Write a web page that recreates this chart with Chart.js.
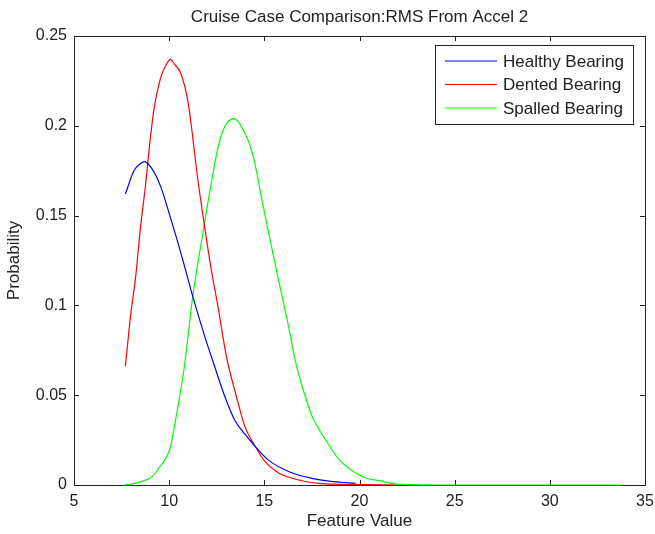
<!DOCTYPE html>
<html>
<head>
<meta charset="utf-8">
<script src="https://cdn.jsdelivr.net/npm/chart.js@4.4.1/dist/chart.umd.min.js"></script>
<style>
  html, body { margin: 0; padding: 0; background: #fff; }
  #wrap { width: 655px; height: 534px; }
</style>
</head>
<body>
<div id="wrap"><canvas id="pdfChart"></canvas></div>
<script>
// values
const healthyX = [7.7, 8.15, 8.5, 8.7, 9.1, 9.56, 10.09, 10.62, 11.24, 11.86, 12.39, 12.9, 13.45, 14.0, 14.5, 15.2, 16.3, 17.5, 18.5, 19.3, 19.8];
const healthyY = [0.162, 0.175, 0.179, 0.18, 0.176, 0.166, 0.148, 0.129, 0.105, 0.083, 0.066, 0.05, 0.036, 0.028, 0.0217, 0.014, 0.0074, 0.0037, 0.002, 0.0013, 0.001];

const dentedX = [7.7, 7.97, 8.24, 8.5, 8.77, 8.94, 9.2, 9.56, 9.85, 10.06, 10.3, 10.62, 10.98, 11.2, 11.47, 11.86, 12.21, 12.57, 13.0, 13.54, 13.98, 14.51, 15.04, 15.75, 16.81, 17.87, 19.0, 20.0, 21.9];
const dentedY = [0.066, 0.094, 0.116, 0.144, 0.168, 0.186, 0.209, 0.227, 0.234, 0.237, 0.234, 0.229, 0.214, 0.197, 0.173, 0.144, 0.12, 0.099, 0.072, 0.049, 0.0325, 0.0217, 0.013, 0.0067, 0.0028, 0.0009, 0.0004, 0.0002, 0];

const spalledX = [7.6, 8.0, 8.68, 9.03, 9.5, 10.05, 10.4, 10.8, 11.24, 11.5, 11.86, 12.21, 12.57, 12.92, 13.4, 13.98, 14.42, 14.87, 15.31, 15.75, 16.28, 16.63, 17.16, 17.52, 18.23, 18.94, 20.17, 21.06, 22.0, 25.0, 33.8];
const spalledY = [0, 0.0005, 0.0024, 0.004, 0.01, 0.0206, 0.04, 0.066, 0.105, 0.123, 0.146, 0.168, 0.188, 0.1995, 0.204, 0.196, 0.183, 0.159, 0.136, 0.114, 0.088, 0.069, 0.049, 0.038, 0.025, 0.014, 0.0046, 0.0024, 0.0005, 0, 0];

const seriesNames = ['Healthy Bearing', 'Dented Bearing', 'Spalled Bearing'];
const seriesColors = ['#0000ff', '#ff0000', '#00ff00'];

const xTicks = [5, 10, 15, 20, 25, 30, 35];
const yTicks = [0, 0.05, 0.1, 0.15, 0.2, 0.25];
const yTickLabels = ['0', '0.05', '0.1', '0.15', '0.2', '0.25'];

const chartTitle = 'Cruise Case Comparison:RMS From Accel 2';

const FONT = '"Liberation Sans", Arial, sans-serif';
const INK = '#222';

function toPoints(xs, ys) {
    return xs.map((x, i) => ({ x: x, y: ys[i] }));
}

// title centred over the plot box, not the whole canvas
const plotTitle = {
    id: 'plotTitle',
    afterDraw(chart) {
        const { ctx, chartArea: a } = chart;
        ctx.save();
        ctx.font = '17px ' + FONT;
        ctx.fillStyle = INK;
        ctx.textAlign = 'center';
        ctx.textBaseline = 'middle';
        ctx.fillText(chartTitle, (a.left + a.right) / 2, 17);
        ctx.restore();
    }
};

// box round the plot with inward ticks, like the original
const boxAxes = {
    id: 'boxAxes',
    beforeDatasetsDraw(chart) {
        const { ctx, chartArea: a, scales } = chart;
        const tick = 5;
        ctx.save();
        ctx.strokeStyle = INK;
        ctx.lineWidth = 1;
        ctx.beginPath();
        ctx.rect(a.left + 0.5, a.top + 0.5, a.right - a.left, a.bottom - a.top);
        xTicks.forEach(v => {
            const px = Math.round(scales.x.getPixelForValue(v)) + 0.5;
            ctx.moveTo(px, a.bottom); ctx.lineTo(px, a.bottom - tick);
            ctx.moveTo(px, a.top); ctx.lineTo(px, a.top + tick);
        });
        yTicks.forEach(v => {
            const py = Math.round(scales.y.getPixelForValue(v)) + 0.5;
            ctx.moveTo(a.left, py); ctx.lineTo(a.left + tick, py);
            ctx.moveTo(a.right, py); ctx.lineTo(a.right - tick, py);
        });
        ctx.stroke();
        ctx.restore();
    }
};

// legend box in the upper right corner
const boxLegend = {
    id: 'boxLegend',
    afterDraw(chart) {
        const { ctx, chartArea: a } = chart;
        const w = 198, h = 79;
        const x0 = a.right - 12 - w, y0 = a.top + 9;
        ctx.save();
        ctx.fillStyle = '#fff';
        ctx.fillRect(x0, y0, w, h);
        ctx.strokeStyle = INK;
        ctx.lineWidth = 1;
        ctx.strokeRect(x0 + 0.5, y0 + 0.5, w, h);
        ctx.font = '17px ' + FONT;
        ctx.textBaseline = 'middle';
        ctx.fillStyle = INK;
        chart.data.datasets.forEach((ds, i) => {
            const ry = y0 + 16 + i * 23.5;
            ctx.strokeStyle = ds.borderColor;
            ctx.lineWidth = 1.2;
            ctx.beginPath();
            ctx.moveTo(x0 + 10, ry); ctx.lineTo(x0 + 62, ry);
            ctx.stroke();
            ctx.fillText(ds.label, x0 + 68, ry + 1);
        });
        ctx.restore();
    }
};

const ctx = document.getElementById('pdfChart').getContext('2d');
const chart = new Chart(ctx, {
    type: 'line',
    data: {
        datasets: [
            { label: seriesNames[0], data: toPoints(healthyX, healthyY), borderColor: seriesColors[0] },
            { label: seriesNames[1], data: toPoints(dentedX, dentedY), borderColor: seriesColors[1] },
            { label: seriesNames[2], data: toPoints(spalledX, spalledY), borderColor: seriesColors[2] }
        ].map(d => Object.assign(d, {
            borderWidth: 1.2, pointRadius: 0, cubicInterpolationMode: 'monotone', fill: false, clip: 4
        }))
    },
    options: {
        responsive: true,
        maintainAspectRatio: false,
        animation: false,
        layout: { padding: { left: 0, right: 10, top: 36, bottom: 0 } },
        plugins: {
            legend: { display: false },
            tooltip: { enabled: false },
            title: { display: false }
        },
        scales: {
            x: {
                type: 'linear',
                min: 5,
                max: 35,
                afterBuildTicks: s => { s.ticks = xTicks.map(v => ({ value: v })); },
                afterFit: s => { s.height = 49; s.paddingLeft = 0; s.paddingRight = 0; },
                grid: { display: false, drawTicks: false },
                border: { display: false },
                ticks: { color: INK, padding: 7, font: { family: FONT, size: 16 } },
                title: {
                    display: true,
                    text: 'Feature Value',
                    color: INK,
                    font: { family: FONT, size: 17 },
                    padding: { top: 0, bottom: 2 }
                }
            },
            y: {
                type: 'linear',
                min: 0,
                max: 0.25,
                afterBuildTicks: s => { s.ticks = yTicks.map(v => ({ value: v })); },
                afterFit: s => { s.width = 74; s.paddingTop = 0; s.paddingBottom = 0; },
                grid: { display: false, drawTicks: false },
                border: { display: false },
                ticks: {
                    color: INK,
                    padding: 7,
                    font: { family: FONT, size: 16 },
                    callback: (v, i) => yTickLabels[i]
                },
                title: {
                    display: true,
                    text: 'Probability',
                    color: INK,
                    font: { family: FONT, size: 17 },
                    padding: { top: 4, bottom: 0 }
                }
            }
        }
    },
    plugins: [boxAxes, boxLegend, plotTitle]
});
</script>
</body>
</html>
